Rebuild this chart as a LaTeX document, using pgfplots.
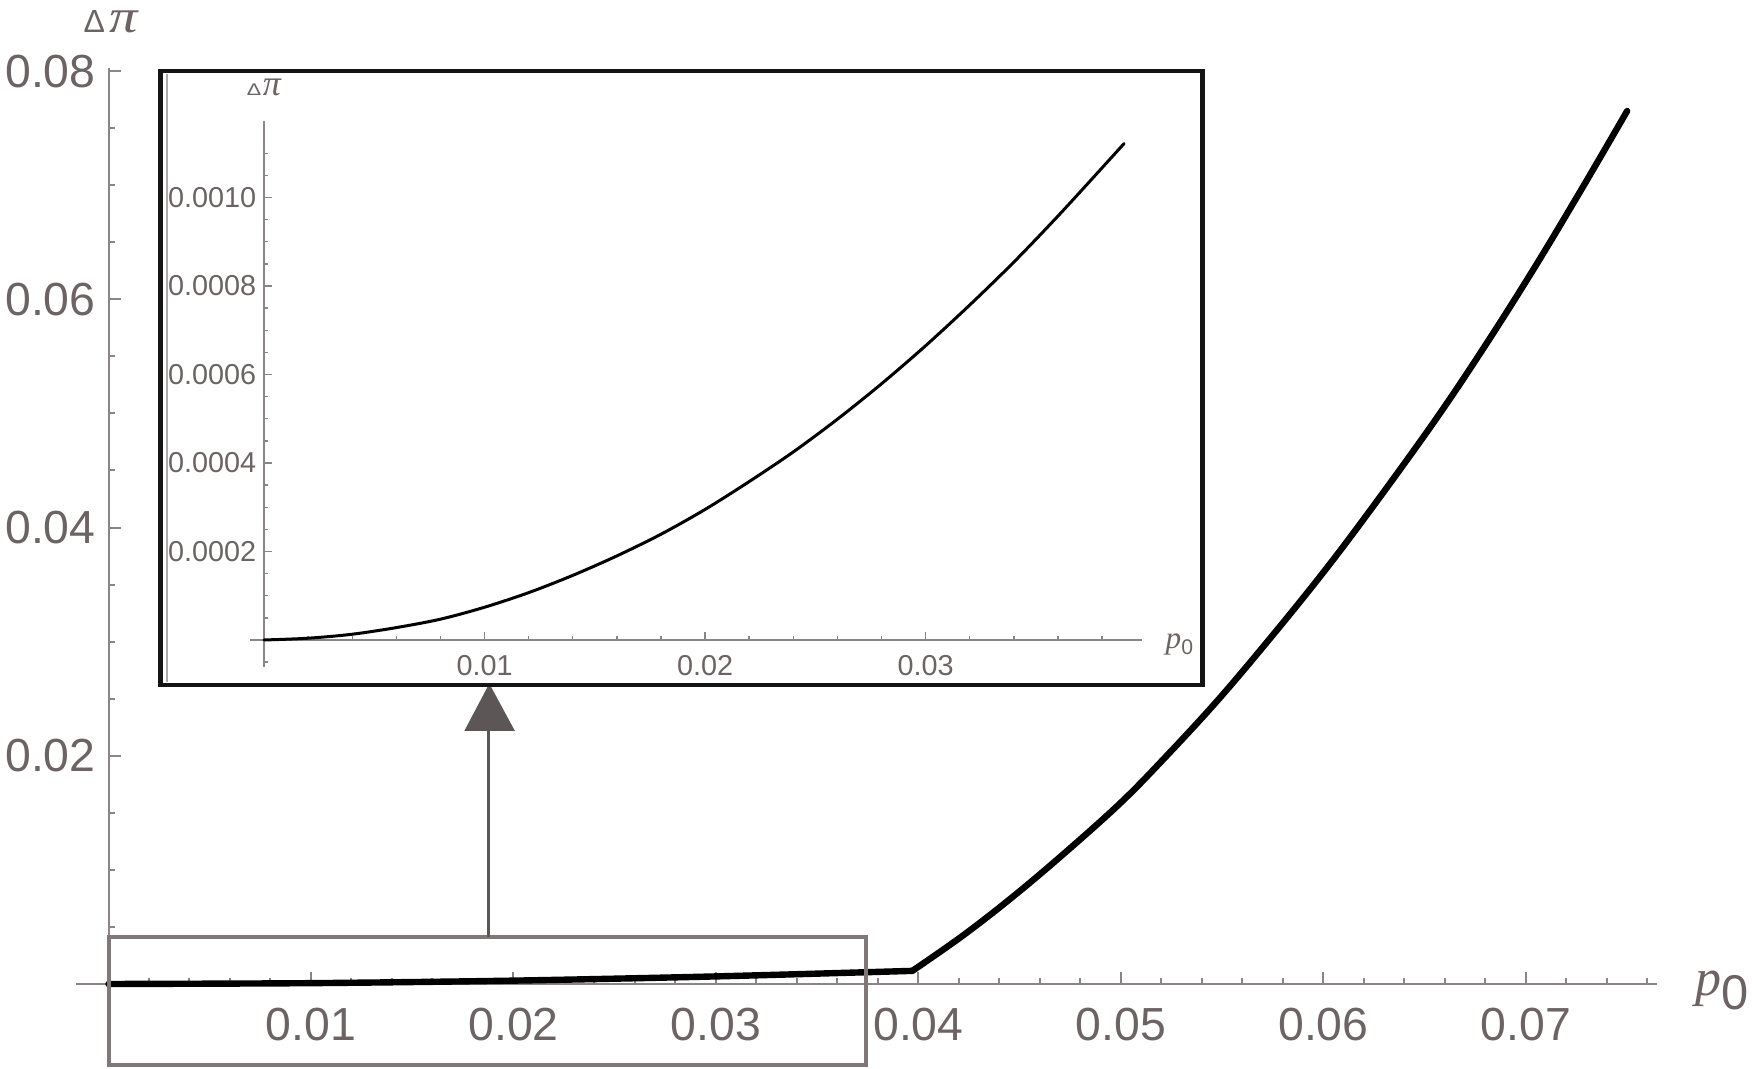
\documentclass[border=0pt]{standalone}
\usepackage{fontspec}
\setmainfont{Liberation Sans}
\newfontfamily\timesfont{Liberation Serif}
\usepackage{graphicx}
\usepackage{pgfplots}
\usepackage{pgfplotstable}
\pgfplotsset{compat=1.18}
\definecolor{lab}{RGB}{108,100,100}
\definecolor{axg}{RGB}{140,133,133}
\definecolor{boxg}{RGB}{128,120,120}
\definecolor{arrg}{RGB}{92,86,86}
\pgfplotstableread{
x       y
0       0
0.002   0.000004
0.004   0.000013
0.006   0.000028
0.008   0.000047
0.010   0.000074
0.012   0.000107
0.014   0.000146
0.016   0.000190
0.018   0.000239
0.020   0.000295
0.022   0.000358
0.024   0.000425
0.026   0.000499
0.028   0.000579
0.030   0.000665
0.032   0.000757
0.034   0.000854
0.036   0.000958
0.038   0.001067
0.0390  0.001122
}\smallpart
\pgfplotstableread{
x       y
0.0397  0.00115
0.0422  0.00425
0.0447  0.0077
0.0473  0.0116
0.0500  0.0159
0.0521  0.0197
0.0546  0.0245
0.0570  0.0295
0.0597  0.0354
0.0621  0.0410
0.0654  0.0491
0.0679  0.0557
0.0704  0.0627
0.0728  0.0698
0.0750  0.0765
}\steeppart
\begin{document}
\begin{tikzpicture}
\useasboundingbox (-27.125pt,-21.25pt) rectangle (411.375pt,246pt);
% ---------------- main axis ----------------
\begin{axis}[
  at={(0pt,0pt)}, anchor=origin,
  scale only axis, width=395.2pt, height=240.5pt,
  xmin=-0.0016, xmax=0.07647, ymin=-0.004, ymax=0.0803,
  axis lines=middle,
  axis line style={-, draw=axg, line width=0.5pt},
  every inner x axis line/.append style={-},
  every inner y axis line/.append style={-},
  clip=false,
  scaled ticks=false,
  xtick={0.01,0.02,0.03,0.04,0.05,0.06,0.07},
  minor xtick={0.002,0.004,0.006,0.008,0.012,0.014,0.016,0.018,0.022,0.024,0.026,0.028,0.032,0.034,0.036,0.038,0.042,0.044,0.046,0.048,0.052,0.054,0.056,0.058,0.062,0.064,0.066,0.068,0.072,0.074,0.076},
  ytick={0.02,0.04,0.06,0.08},
  minor ytick={0.005,0.01,0.015,0.025,0.03,0.035,0.045,0.05,0.055,0.065,0.07,0.075},
  tick align=inside,
  major tick length=3pt, minor tick length=1.5pt,
  every tick/.style={draw=axg, line width=0.5pt},
  /pgf/number format/assume math mode=true,
  /pgf/number format/fixed,
  /pgf/number format/fixed zerofill,
  /pgf/number format/precision=2,
  tick label style={font=\fontsize{11.6}{12}\selectfont, color=lab},
  xticklabel style={yshift=-2.6pt},
  yticklabel style={xshift=0.3pt},
]
\addplot[black, line width=1.6pt, line cap=round, smooth] table {
0       0
0.010   0.000074
0.020   0.000295
0.030   0.000665
0.0397  0.00115
};
\addplot[black, line width=1.6pt, line cap=round, smooth, tension=0.6] table[x=x, y=y] {\steeppart};
\end{axis}
% axis labels of the main plot
\node[inner sep=0pt, anchor=base, color=lab] at (0.6pt,237.8pt)
  {{\fontsize{8}{8}\selectfont Δ}\kern1.2pt\scalebox{1.2}[1]{\timesfont\itshape\fontsize{11.8}{12}\selectfont π}};
\node[inner sep=0pt, anchor=base west, color=lab] at (396.5pt,-2.9pt)
  {{\timesfont\itshape\fontsize{13}{13}\selectfont p}\raisebox{-3.6pt}{\fontsize{12.2}{12}\selectfont 0}};
% zoom rectangle and arrow
\draw[boxg, line width=0.9pt] (0.125pt,-20.25pt) rectangle (189.4pt,11.75pt);
\draw[arrg, line width=0.7pt] (95pt,11.75pt) -- (95pt,63.5pt);
\fill[arrg] (88.95pt,63.25pt) -- (101.6pt,63.25pt) -- (95.2pt,75.1pt) -- cycle;
% inset frame
\draw[black!92, line width=1.2pt, fill=white] (13pt,74.75pt) rectangle (273.55pt,228.25pt);
\draw[axg!70, line width=0.3pt] (14.6pt,75.5pt) -- (14.6pt,227.5pt);
% ---------------- inset axis ----------------
\begin{axis}[
  at={(38.875pt,86pt)}, anchor=origin,
  scale only axis, width=222.9pt, height=136.5pt,
  xmin=-0.00063, xmax=0.0398, ymin=-0.00006, ymax=0.001174,
  axis lines=middle,
  axis line style={-, draw=axg, line width=0.35pt},
  every inner x axis line/.append style={-},
  every inner y axis line/.append style={-},
  clip=false,
  scaled ticks=false,
  xtick={0.01,0.02,0.03},
  minor xtick={0.002,0.004,0.006,0.008,0.012,0.014,0.016,0.018,0.022,0.024,0.026,0.028,0.032,0.034,0.036,0.038},
  ytick={0.0002,0.0004,0.0006,0.0008,0.0010},
  minor ytick={-0.00005,0.00005,0.0001,0.00015,0.00025,0.0003,0.00035,0.00045,0.0005,0.00055,0.00065,0.0007,0.00075,0.00085,0.0009,0.00095,0.00105,0.0011},
  tick align=inside,
  major tick length=1.9pt, minor tick length=1pt,
  every tick/.style={draw=axg, line width=0.35pt},
  /pgf/number format/assume math mode=true,
  /pgf/number format/fixed,
  /pgf/number format/fixed zerofill,
  xticklabel style={/pgf/number format/precision=2, yshift=-0.2pt},
  yticklabel style={/pgf/number format/precision=4, xshift=1.6pt},
  tick label style={font=\fontsize{7.2}{8}\selectfont, color=lab},
]
\addplot[black, line width=0.75pt, line cap=round, smooth] table[x=x, y=y] {\smallpart};
\end{axis}
\node[inner sep=0pt, color=lab] at (38.875pt,224.1pt)
  {\resizebox{3.6pt}{2.9pt}{Δ}\kern0.4pt{\timesfont\itshape\fontsize{9}{9}\selectfont π}};
\node[inner sep=0pt, anchor=north west, color=lab] at (264.1pt,87.75pt)
  {{\timesfont\itshape\fontsize{7.8}{8}\selectfont p}\raisebox{-1.6pt}{\fontsize{5.3}{6}\selectfont 0}};
\end{tikzpicture}
\end{document}
